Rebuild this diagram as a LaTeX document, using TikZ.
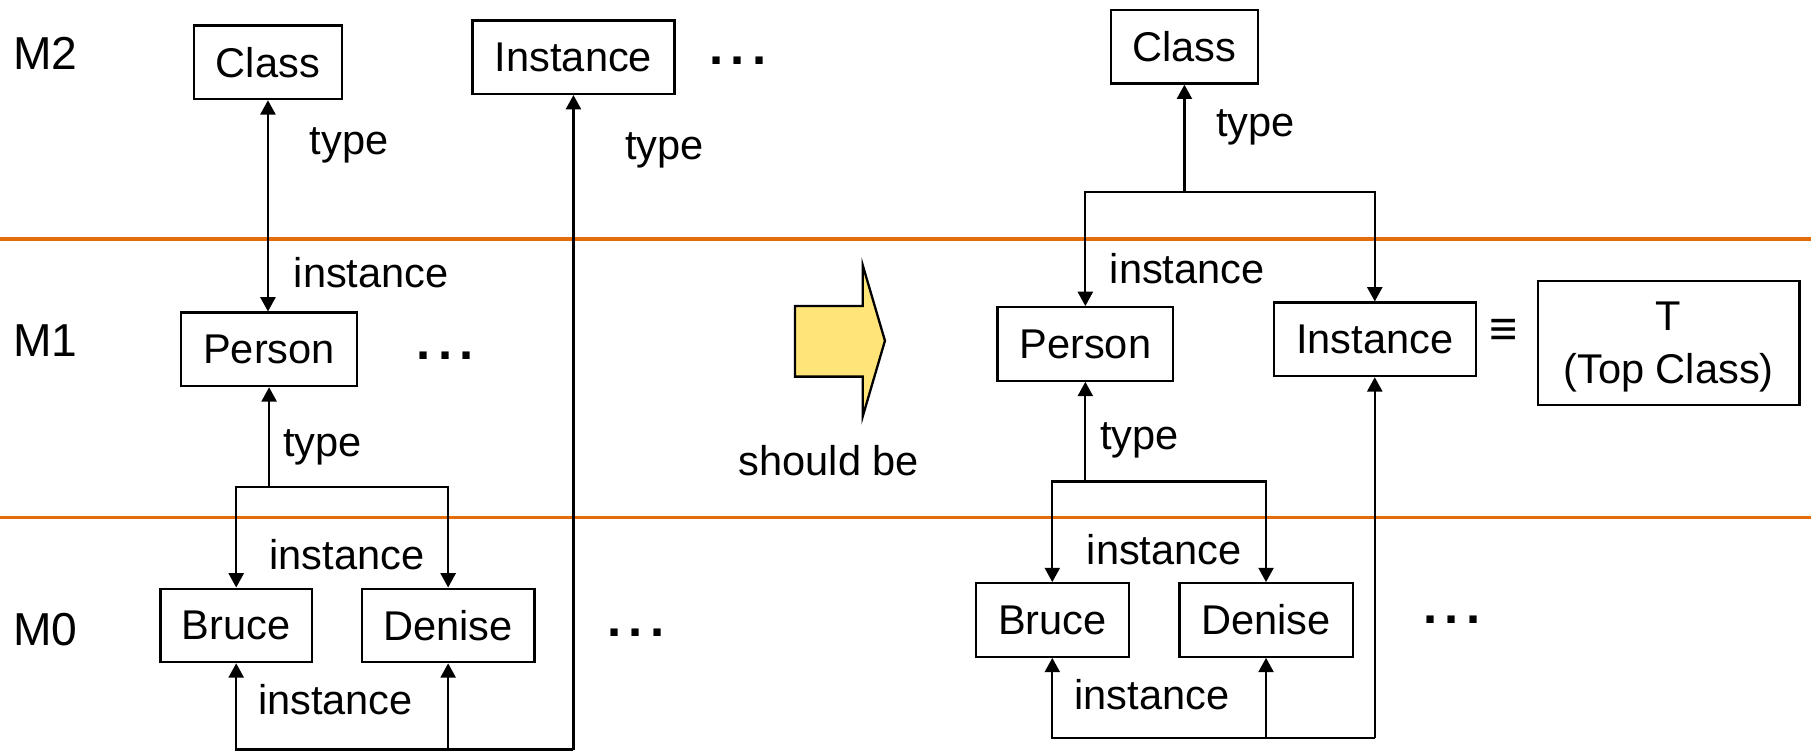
\documentclass[tikz,border=0pt]{standalone}
\usepackage{fontspec}
\setmainfont{Liberation Sans}
\usetikzlibrary{arrows.meta}
\definecolor{sepor}{HTML}{E46C0A}
\definecolor{arrowyel}{HTML}{FFE478}
\begin{document}
\begin{tikzpicture}[x=0.5pt,y=-0.5pt,
  box/.style={draw, line width=1pt, inner sep=0pt, minimum height=31.8pt, font=\fontsize{18pt}{21.6pt}\selectfont},
  lbl/.style={inner sep=0pt, anchor=base west, font=\fontsize{18pt}{21.6pt}\selectfont},
  lvl/.style={inner sep=0pt, anchor=base west, font=\fontsize{20pt}{24pt}\selectfont},
  dotsym/.style={inner sep=0pt, font=\fontsize{22pt}{26pt}\selectfont\bfseries},
  conn/.style={line width=1pt},
  arr/.style={conn, -{Triangle[length=6.2pt,width=6.5pt]}},
  darr/.style={conn, {Triangle[length=6.2pt,width=6.5pt]}-{Triangle[length=6.2pt,width=6.5pt]}},
  sepline/.style={line width=1.4pt, draw=sepor}]
\useasboundingbox (0,0) rectangle (1568,651);
\fill[white] (0,0) rectangle (1568,651);
% separators
\draw[sepline] (0,207) -- (1568,207);
\draw[sepline] (0,448) -- (1568,448);
% level labels
\node[lvl] (m2) at (11,60.6) {M2};
\node[lvl] (m1) at (11,309) {M1};
\node[lvl] (m0) at (11,559) {M0};
% ---------- left side ----------
\node[box, minimum width=64pt] (cls1) at (232,54) {Class};
\node[box, minimum width=87.5pt] (inst1) at (496.5,49.5) {Instance};
\node[box, minimum width=76pt] (person1) at (233,302.5) {Person};
\node[box, minimum width=65.5pt] (bruce1) at (204.5,541.5) {Bruce};
\node[box, minimum width=74.75pt] (denise1) at (388,541.5) {Denise};
\node[dotsym] (d1) at (639,52.4) {.\kern3.15pt.\kern3.15pt.};
\node[dotsym] (d2) at (385.5,308) {.\kern3.15pt.\kern3.15pt.};
\node[dotsym] (d3) at (550.5,548) {.\kern3.15pt.\kern3.15pt.};
\coordinate (j1) at (233,421.5);
\coordinate (b1) at (496.5,649);
\draw[darr] (cls1.south) -- (cls1.south |- person1.north);
\draw[arr] (j1) -- (person1.south);
\draw[arr] (j1) -| (bruce1.north);
\draw[arr] (j1) -| (denise1.north);
\draw[arr] (b1) -- (inst1.south);
\draw[arr] (b1) -| (bruce1.south);
\draw[arr] (b1 -| denise1.south) -- (denise1.south);
\node[lbl] (lt1) at (268,134) {type};
\node[lbl] (li1) at (254,249) {instance};
\node[lbl] (lt2) at (541,138.5) {type};
\node[lbl] (lt3) at (245,395) {type};
\node[lbl] (li2) at (233,493.5) {instance};
\node[lbl] (li3) at (223,619) {instance};
% ---------- middle arrow ----------
\draw[line width=1pt, fill=arrowyel] (688.3,265) -- (746.9,265) -- (746.9,229.4) -- (766.2,295) -- (746.9,360.8) -- (746.9,326.1) -- (688.3,326.1) -- cycle;
\node[lbl] (sb) at (639.2,411.3) {should be};
% ---------- right side ----------
\node[box, minimum width=63.5pt] (cls2) at (1025.5,40.5) {Class};
\node[box, minimum width=76pt] (person2) at (939.7,297.8) {Person};
\node[box, minimum width=87.4pt] (inst2) at (1190.3,293.8) {Instance};
\node[box, minimum width=113.15pt, minimum height=53.65pt] (top) at (1444.75,297) {};
\node[inner sep=0pt, align=center, font=\fontsize{18pt}{22.8pt}\selectfont, yshift=-1.85pt] (toptext) at (top.center) {T\\(Top Class)};
\node[inner sep=0pt, font=\fontsize{21pt}{24pt}\selectfont\bfseries] (eq) at (1302,288) {≡};
\node[box, minimum width=66.3pt] (bruce2) at (911.1,536.8) {Bruce};
\node[box, minimum width=75pt] (denise2) at (1096.15,536.8) {Denise};
\node[dotsym] (d4) at (1257.2,536.8) {.\kern3.15pt.\kern3.15pt.};
\coordinate (c2) at (1025.5,166.5);
\coordinate (j2) at (939.7,417);
\coordinate (b2) at (1190.3,639.2);
\draw[arr] (c2) -- (cls2.south);
\draw[arr] (c2) -| (person2.north);
\draw[arr] (c2) -| (inst2.north);
\draw[arr] (j2) -- (person2.south);
\draw[arr] (j2) -| (bruce2.north);
\draw[arr] (j2) -| (denise2.north);
\draw[arr] (b2) -- (inst2.south);
\draw[arr] (b2) -| (bruce2.south);
\draw[arr] (b2 -| denise2.south) -- (denise2.south);
\node[lbl] (lt4) at (1052.6,118) {type};
\node[lbl] (li4) at (960.5,245.3) {instance};
\node[lbl] (lt5) at (952.2,389.6) {type};
\node[lbl] (li5) at (940.6,489) {instance};
\node[lbl] (li6) at (929.9,614.7) {instance};
\end{tikzpicture}
\end{document}
